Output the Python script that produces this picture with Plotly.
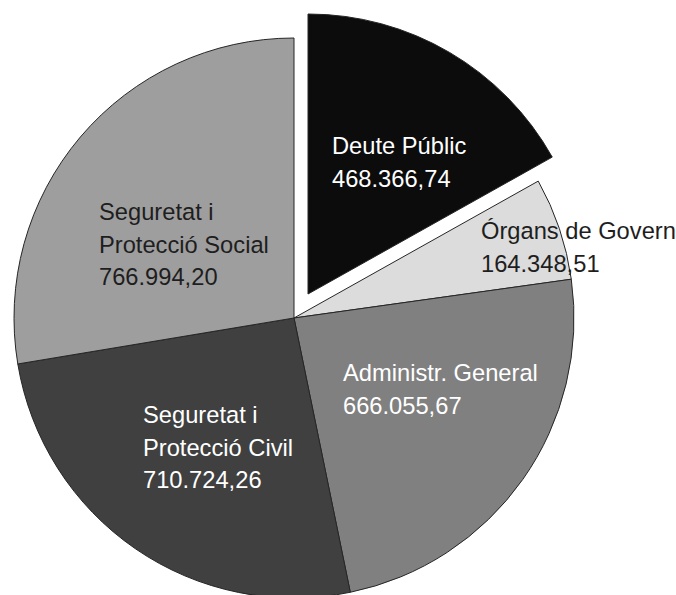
import plotly.graph_objects as go

W, H = 676, 598

categories = ["Deute Públic", "Òrgans de Govern", "Administr. General",
              "Seguretat i Protecció Civil", "Seguretat i Protecció Social"]
values = [468366.74, 164348.51, 666055.67, 710724.26, 766994.20]
value_labels = ["468.366,74", "164.348,51", "666.055,67", "710.724,26", "766.994,20"]
label_lines = [["Deute Públic"], ["Órgans de Govern"], ["Administr. General"],
               ["Seguretat i", "Protecció Civil"], ["Seguretat i", "Protecció Social"]]
colors = ["#0c0c0c", "#dcdcdc", "#808080", "#404040", "#9e9e9e"]
text_colors = ["#ffffff", "#1e1e1e", "#ffffff", "#ffffff", "#1e1e1e"]

# layout parameters (screen pixels)
cx, cy, r = 294, 318, 280
pull_dx, pull_dy = 14, -24
label_pos = [(330, 146), (479, 231), (341, 373), (141, 415), (97, 212)]
line_gap = 32.5
font_size = 23.7
font_family = "Liberation Sans, Arial, Helvetica, sans-serif"


def dom(cxp, cyp):
    return dict(x=[(cxp - r) / W, (cxp + r) / W],
                y=[max(0.0, (H - (cyp + r)) / H), (H - (cyp - r)) / H])


line_col = "#262626"
main_colors = ["rgba(0,0,0,0)"] + colors[1:]
main_lw = [0, 1, 1, 1, 1]
pulled_colors = [colors[0]] + ["rgba(0,0,0,0)"] * 4
pulled_lw = [1, 0, 0, 0, 0]

fig = go.Figure()
fig.add_trace(go.Pie(
    labels=categories, values=values, sort=False, direction="clockwise",
    rotation=0, textinfo="none", hoverinfo="label+value",
    marker=dict(colors=main_colors, line=dict(color=line_col, width=main_lw)),
    domain=dom(cx, cy), showlegend=False))
fig.add_trace(go.Pie(
    labels=categories, values=values, sort=False, direction="clockwise",
    rotation=0, textinfo="none", hoverinfo="skip",
    marker=dict(colors=pulled_colors, line=dict(color=line_col, width=pulled_lw)),
    domain=dom(cx + pull_dx, cy + pull_dy), showlegend=False))

annotations = []
for i in range(len(categories)):
    lines = label_lines[i] + [value_labels[i]]
    x0, y0 = label_pos[i]
    for j, t in enumerate(lines):
        annotations.append(dict(
            text=t, x=x0 / W, y=1 - (y0 + j * line_gap) / H,
            xref="paper", yref="paper", xanchor="left", yanchor="middle",
            showarrow=False, align="left",
            font=dict(size=font_size, color=text_colors[i], family=font_family)))

fig.update_layout(
    width=W, height=H, margin=dict(l=0, r=0, t=0, b=0),
    paper_bgcolor="white", plot_bgcolor="white",
    annotations=annotations, showlegend=False)

post = ("document.body.style.margin='0';"
        "document.body.style.overflow='hidden';"
        "document.documentElement.style.overflow='hidden';")
fig.write_html("out.html", post_script=post, config={"displayModeBar": False})
